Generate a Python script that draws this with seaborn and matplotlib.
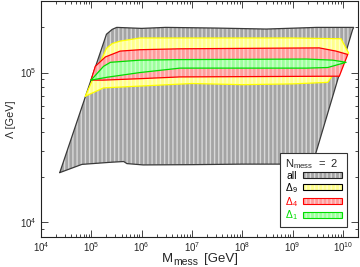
import matplotlib
matplotlib.use("Agg")
import matplotlib.pyplot as plt
import seaborn as sns
import pandas as pd
from matplotlib.patches import Patch
from matplotlib.ticker import FixedLocator, NullFormatter, LogFormatterSciNotation

# ---- data ----
all_M = [2.36e4, 2.0e5, 2.6e5, 3.2e5, 1.0e6, 3.0e6, 3.0e7, 3.0e8, 3.0e9, 1.64e10, 1.56e10,
         2.5e9, 1.0e8, 1.0e7, 1.07e6, 5.1e5, 4.4e5, 2.4e5, 6.5e4]
all_L = [2.15e4, 1.8e5, 1.94e5, 2.0e5, 1.97e5, 2.0e5, 1.98e5, 1.95e5, 2.0e5, 2.0e5, 1.93e5,
         2.45e4, 2.45e4, 2.43e4, 2.42e4, 2.47e4, 2.55e4, 2.52e4, 2.44e4]

d9_M = [7.6e4, 2.0e5, 2.6e5, 3.75e5, 9.3e5, 1.0e7, 1.0e9, 9.2e9, 1.3e10, 5.0e9, 1.0e9, 1.0e8, 1.0e7, 1.75e5]
d9_L = [6.95e4, 1.45e5, 1.56e5, 1.62e5, 1.70e5, 1.70e5, 1.70e5, 1.68e5, 1.35e5, 8.6e4, 8.4e4, 8.3e4, 8.45e4, 7.9e4]

d4_M = [9.9e4, 1.2e5, 1.9e5, 3.75e5, 9.3e5, 5.8e6, 3.4e9, 7.3e9, 1.25e10, 8.5e9, 6.2e9, 5.8e6, 9.3e5, 1.73e5]
d4_L = [8.9e4, 1.1e5, 1.27e5, 1.39e5, 1.42e5, 1.44e5, 1.46e5, 1.39e5, 1.32e5, 9.45e4, 9.45e4, 9.35e4, 9.1e4, 8.9e4]

d1_M = [9.9e4, 1.75e5, 2.4e5, 9.3e5, 5.8e6, 1.9e9, 6.3e9, 1.16e10, 5.0e9, 1.9e9, 5.8e6, 9.3e5, 2.05e5]
d1_L = [8.9e4, 1.1e5, 1.17e5, 1.21e5, 1.22e5, 1.23e5, 1.21e5, 1.17e5, 1.08e5, 1.07e5, 1.07e5, 1.0e5, 9.3e4]

x_major = [1e4, 1e5, 1e6, 1e7, 1e8, 1e9, 1e10]
y_major = [1e4, 1e5]

labels = ["all", "$\\Delta_9$", "$\\Delta_4$", "$\\Delta_1$"]
legend_title = "N$_\\mathrm{mess}$  =  2"
xlabel_parts = ["M", "mess", "[GeV]"]
ylabel = "Λ [GeV]"

# ---- style ----
sns.set_style("ticks")
plt.rcParams['font.family'] = ['Liberation Sans', 'DejaVu Sans']
plt.rcParams['mathtext.fontset'] = 'custom'
plt.rcParams['mathtext.rm'] = 'Liberation Sans'
plt.rcParams['mathtext.it'] = 'Liberation Sans:italic'
plt.rcParams['mathtext.bf'] = 'Liberation Sans:bold'
plt.rcParams['mathtext.sf'] = 'Liberation Sans'
plt.rcParams['hatch.linewidth'] = 1.0
plt.rcParams['axes.edgecolor'] = '#222222'

W, H = 360, 267
fig = plt.figure(figsize=(W / 100, H / 100), dpi=100)
ax = fig.add_axes([41 / W, 30 / H, 317 / W, 236 / H])
ax.set_xscale('log')
ax.set_yscale('log')

regions = [
    (all_M, all_L, "#a4a4a4", "#d8d8d8", "#3a3a3a", "#222222"),
    (d9_M, d9_L, "#ffff8c", "#ffffc8", "#ffff00", "#000000"),
    (d4_M, d4_L, "#ff9c9c", "#ffcaca", "#ff0000", "#ff0000"),
    (d1_M, d1_L, "#9cff9c", "#ccffcc", "#00dd00", "#00dd00"),
]
text_colors = ["#000000", "#000000", "#ff0000", "#00dd00"]

handles = []
for i, (xs, ys, face, stripe, edge, legedge) in enumerate(regions):
    ax.fill(xs, ys, facecolor=face, edgecolor=stripe, hatch='||||', linewidth=0, zorder=1 + 2 * i)
    df = pd.DataFrame({'x': list(xs) + [xs[0]], 'y': list(ys) + [ys[0]]})
    sns.lineplot(data=df, x='x', y='y', sort=False, estimator=None, color=edge,
                 linewidth=0.9, ax=ax, zorder=2 + 2 * i)
    h = (Patch(facecolor=face, edgecolor=stripe, hatch='||||', linewidth=0),
         Patch(facecolor='none', edgecolor=legedge, linewidth=0.8))
    handles.append(h)

xlim = (1e4, 2e10)
ylim = (8e3, 3e5)
ax.set_xlim(*xlim)
ax.set_ylim(*ylim)

x_minor = [m * d for d in x_major + [1e3] for m in range(2, 10) if xlim[0] < m * d < xlim[1]]
y_minor = [m * d for d in [1e3] + y_major for m in range(2, 10) if ylim[0] < m * d < ylim[1]]
ax.xaxis.set_major_locator(FixedLocator(x_major))
ax.xaxis.set_major_formatter(LogFormatterSciNotation())
ax.xaxis.set_minor_locator(FixedLocator(x_minor))
ax.xaxis.set_minor_formatter(NullFormatter())
ax.yaxis.set_major_locator(FixedLocator(y_major))
ax.yaxis.set_major_formatter(LogFormatterSciNotation())
ax.yaxis.set_minor_locator(FixedLocator(y_minor))
ax.yaxis.set_minor_formatter(NullFormatter())

ax.tick_params(which='both', direction='in', top=True, right=True, width=0.6, labelsize=7)
ax.tick_params(axis='x', pad=2.5)
ax.tick_params(axis='y', pad=3)
ax.tick_params(which='major', length=5)
ax.tick_params(which='minor', length=2.5)
for s in ax.spines.values():
    s.set_linewidth(0.8)

ax.set_xlabel("")
ax.set_ylabel(ylabel, fontsize=7.8, labelpad=3)

leg = ax.legend(handles, labels, title=legend_title, loc='lower right',
                bbox_to_anchor=(0.965, 0.042), borderaxespad=0, markerfirst=False,
                fontsize=7.5, title_fontsize=8, handlelength=3.8, handleheight=0.55,
                labelspacing=0.0, borderpad=0.45, handletextpad=0.5,
                fancybox=False, framealpha=1, edgecolor='#333333')
leg.get_frame().set_linewidth(0.8)
leg.set_zorder(20)
leg._legend_box.align = "left"
for t, c in zip(leg.get_texts(), text_colors):
    t.set_color(c)

# x label composed of pieces (main text + larger subscript)
fig.canvas.draw()
r = fig.canvas.get_renderer()
x_px = 162
t1 = fig.text(x_px / W, (H - 262) / H, xlabel_parts[0], fontsize=9.5, va='baseline', ha='left')
x_px = t1.get_window_extent(r).x1 + 0.5
t2 = fig.text(x_px / W, (H - 265) / H, xlabel_parts[1], fontsize=7.5, va='baseline', ha='left')
x_px = t2.get_window_extent(r).x1 + 5
fig.text(x_px / W, (H - 262) / H, xlabel_parts[2], fontsize=9.5, va='baseline', ha='left')

fig.savefig("out.png", dpi=100)
